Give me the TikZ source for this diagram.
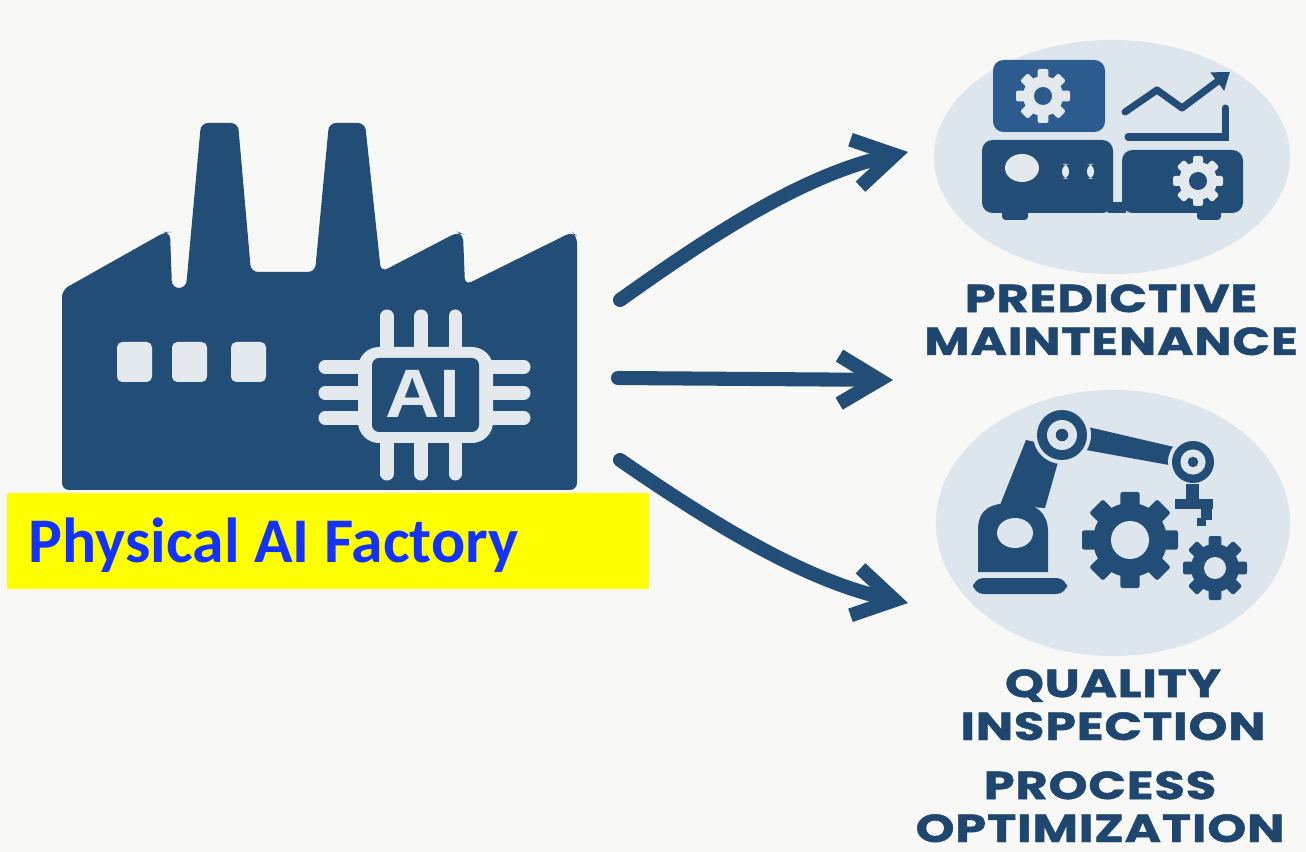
\documentclass[tikz,border=0pt]{standalone}
\usepackage{fontspec}
\setmainfont{Liberation Sans}
\newfontfamily\capsfont{Poppins}[FakeStretch=1.27,LetterSpace=2,BoldFeatures={FakeBold=1.2}]
\newfontfamily\calfont{Carlito}
\newfontfamily\chipfont{Liberation Sans}[FakeStretch=1.1]
\usepackage{tikz}
\usetikzlibrary{arrows.meta,positioning,shapes.geometric}

\definecolor{paper}{RGB}{248,248,246}
\definecolor{navy}{RGB}{33,77,119}
\definecolor{steel}{RGB}{44,92,142}
\definecolor{mist}{RGB}{222,230,237}
\definecolor{chip}{RGB}{228,233,238}
\definecolor{ink}{RGB}{30,70,110}
\definecolor{signal}{RGB}{20,50,255}
\definecolor{marker}{RGB}{255,255,0}

\newcommand{\cogwheel}[7]{%
  \begin{scope}[shift={#1}]
    \fill[#6] (0,0) circle (#3);
    \foreach \k in {1,...,#5}
      \fill[#6, rotate=\k*360/#5, rounded corners=0.6pt] (-0.2*#2,0) rectangle (0.2*#2,#2);
    \fill[#7] (0,0) circle (#4);
  \end{scope}}

\begin{document}
\begin{tikzpicture}[
  x=0.01cm, y=-0.01cm,
  disc/.style={ellipse, fill=mist, inner sep=0pt},
  flow/.style={-{Straight Barb[length=4mm,width=4.8mm]}, line width=4pt, draw=navy, line cap=round, line join=round},
  caption/.style={font=\capsfont\bfseries\fontsize{11.1}{12.2}\selectfont, text=ink, align=center, inner sep=0pt, anchor=base},
  pin/.style={draw=chip, line width=3.7pt, line cap=round}
]
\useasboundingbox (0,0) rectangle (1306,852);
\fill[paper] (0,0) rectangle (1306,852);

\fill[navy, rounded corners=2pt] (62,490) -- (62,290) -- (165,232) -- (170,232) -- (172,288) -- (186,288)
  -- (201,123) -- (238,123) -- (251,272) -- (315,272) -- (329,123) -- (365,123) -- (381,272)
  -- (458,232) -- (463,234) -- (465,285) -- (572,232) -- (577,236) -- (577,490) -- cycle;
\foreach \wx in {117,172,231}
  \fill[chip, rounded corners=1.5pt] (\wx,342) rectangle +(35,40);
\foreach \px in {387,421,455}
  \draw[pin] (\px,316) -- (\px,474);
\foreach \py in {367,393,418}
  \draw[pin] (325,\py) -- (524,\py);
\fill[chip, rounded corners=6pt] (358,347) rectangle (493,443);
\fill[navy, rounded corners=2pt] (372,358) rectangle (479,432);
\node[font=\chipfont\bfseries\fontsize{19.5}{19.5}\selectfont, text=chip, anchor=base, inner sep=0pt] (chipText) at (423,418) {AI};

\node[fill=marker, minimum width=6.42cm, minimum height=0.96cm, anchor=north west, inner sep=0pt] (banner) at (6,492) {};
\node[font=\calfont\bfseries\fontsize{18.1}{20}\selectfont, text=signal, anchor=base west, inner sep=0pt] (title) at (28,562) {Physical AI Factory};

\node[disc, minimum width=3.56cm, minimum height=2.34cm] (maint) at (1112,157) {};
\node[disc, minimum width=3.54cm, minimum height=2.66cm] (qual) at (1113,523) {};

\fill[steel, rounded corners=3pt] (993,60) rectangle (1105,132);
\cogwheel{(1043,96)}{27}{20}{9}{8}{chip}{steel}
\fill[navy, rounded corners=3pt] (982,140) rectangle (1113,213);
\fill[navy, rounded corners=1pt] (1002,210) rectangle (1028,220);
\fill[navy, rounded corners=3pt] (1122,150) rectangle (1243,213);
\fill[navy, rounded corners=1pt] (1197,210) rectangle (1221,220);
\fill[navy] (1108,202) rectangle (1126,213);
\fill[chip] (1022,168) ellipse (17 and 14);
\fill[chip, rounded corners=2pt] (1062,164) rectangle (1069,179);
\fill[chip, rounded corners=2pt] (1087,164) rectangle (1094,179);
\cogwheel{(1198,181)}{25}{19}{9}{8}{chip}{navy}
\draw[navy, line width=2pt, line cap=round, line join=round, -{Triangle[length=1.6mm,width=2.2mm]}] (1125,112) -- (1157,90) -- (1182,108) -- (1230,72);
\draw[navy, line width=2pt, line cap=round] (1128,137) -- (1225,137) -- (1225,108);

\fill[navy] (1000,505) -- (1045,508) -- (1062,448) -- (1026,440) -- cycle;
\fill[navy] (1088,427) -- (1174,447) -- (1169,465) -- (1086,450) -- cycle;
\fill[navy, rounded corners=3pt] (973,578) rectangle (1067,594);
\fill[navy] (978,572) -- (978,530) .. controls (978,508) and (992,503) .. (1013,503)
  .. controls (1038,503) and (1048,514) .. (1048,532) -- (1048,572) -- cycle;
\fill[mist] (1015,533) ellipse (18 and 15);
\foreach \jx/\jy/\jr in {1062/435/25, 1193/462/21} {
  \fill[mist] (\jx,\jy) circle (\jr+4);
  \fill[navy] (\jx,\jy) circle (\jr);
  \fill[mist] (\jx,\jy) circle (0.6*\jr);
  \fill[navy] (\jx,\jy) circle (0.25*\jr);
}
\fill[navy] (1186,484) rectangle (1199,500);
\fill[navy] (1175,499) rectangle (1213,509);
\fill[navy] (1201,508) rectangle (1212,520);
\fill[navy] (1197,518) rectangle (1206,526);
\cogwheel{(1130,540)}{48}{37}{19}{8}{navy}{mist}
\cogwheel{(1215,568)}{32}{24}{11}{8}{navy}{mist}

\node[caption] (maintText) at (1111,355) {PREDICTIVE\\MAINTENANCE};
\node[caption] (qualText) at (1113,740) {QUALITY\\INSPECTION};
\node[caption, text depth=0pt] (procText) at (1100,842) {PROCESS\\OPTIMIZATION};

\coordinate (srcHigh) at (620,300);
\coordinate (dstHigh) at (908,152);
\coordinate (srcMid) at (618,378);
\coordinate (dstMid) at (893,380);
\coordinate (srcLow) at (620,460);
\coordinate (dstLow) at (908,603);
\draw[flow] (srcHigh) .. controls (700,243) and (800,175) .. (dstHigh);
\draw[flow] (srcMid) -- (dstMid);
\draw[flow] (srcLow) .. controls (700,515) and (800,580) .. (dstLow);
\end{tikzpicture}
\end{document}
